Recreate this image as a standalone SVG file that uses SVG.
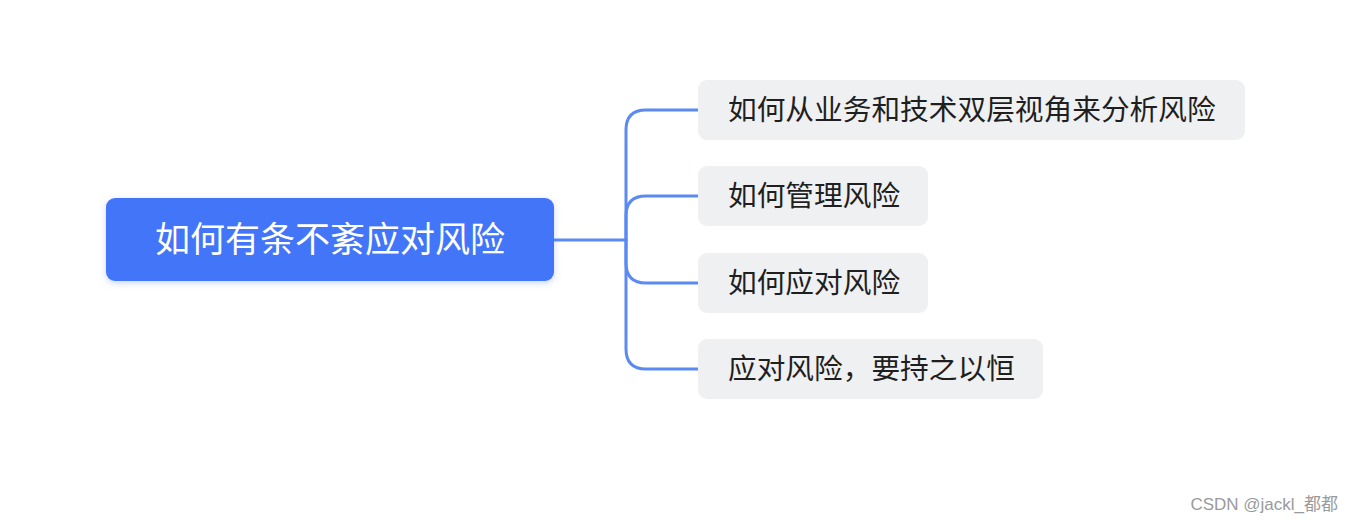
<svg xmlns="http://www.w3.org/2000/svg" width="1354" height="524" viewBox="0 0 1354 524">
<style>
.child{fill:#eff0f2}
.ct{font-family:"Noto Sans CJK SC","Noto Sans",sans-serif;font-size:28.7px;fill:#1f1f1f}
.conn{fill:none;stroke:#5a8af2;stroke-width:3;stroke-linecap:round}
</style>
<defs>
<filter id="sh" x="-10%" y="-30%" width="120%" height="160%">
<feDropShadow dx="0" dy="2" stdDeviation="3" flood-color="#4374f7" flood-opacity="0.3"/>
</filter>
</defs>
<rect width="1354" height="524" fill="#ffffff"/>
<g id="connectors">
<path class="conn" d="M554 240 H626"/>
<path class="conn" d="M698 110 H646 Q626 110 626 130 V349 Q626 369 646 369 H698"/>
<path class="conn" d="M698 196 H646 Q626 196 626 216 V240"/>
<path class="conn" d="M698 283 H646 Q626 283 626 263 V240"/>
</g>
<g id="root">
<rect x="106" y="198" width="448" height="83" rx="9" fill="#4374f7" filter="url(#sh)"/>
<text x="330" y="252" text-anchor="middle" font-family="Noto Sans CJK SC, sans-serif" font-size="35" fill="#ffffff">如何有条不紊应对风险</text>
</g>
<g id="n1">
<rect class="child" x="698" y="80" width="547" height="60" rx="9"/>
<text class="ct" x="728" y="120">如何从业务和技术双层视角来分析风险</text>
</g>
<g id="n2">
<rect class="child" x="698" y="166" width="230" height="60" rx="9"/>
<text class="ct" x="728" y="206">如何管理风险</text>
</g>
<g id="n3">
<rect class="child" x="698" y="253" width="230" height="60" rx="9"/>
<text class="ct" x="728" y="293">如何应对风险</text>
</g>
<g id="n4">
<rect class="child" x="698" y="339" width="345" height="60" rx="9"/>
<text class="ct" x="728" y="379">应对风险，要持之以恒</text>
</g>
<text x="1338" y="510" text-anchor="end" font-family="Liberation Sans, Noto Sans CJK SC, sans-serif" font-size="17" fill="#9a9a9a">CSDN @jackl_都都</text>
</svg>
